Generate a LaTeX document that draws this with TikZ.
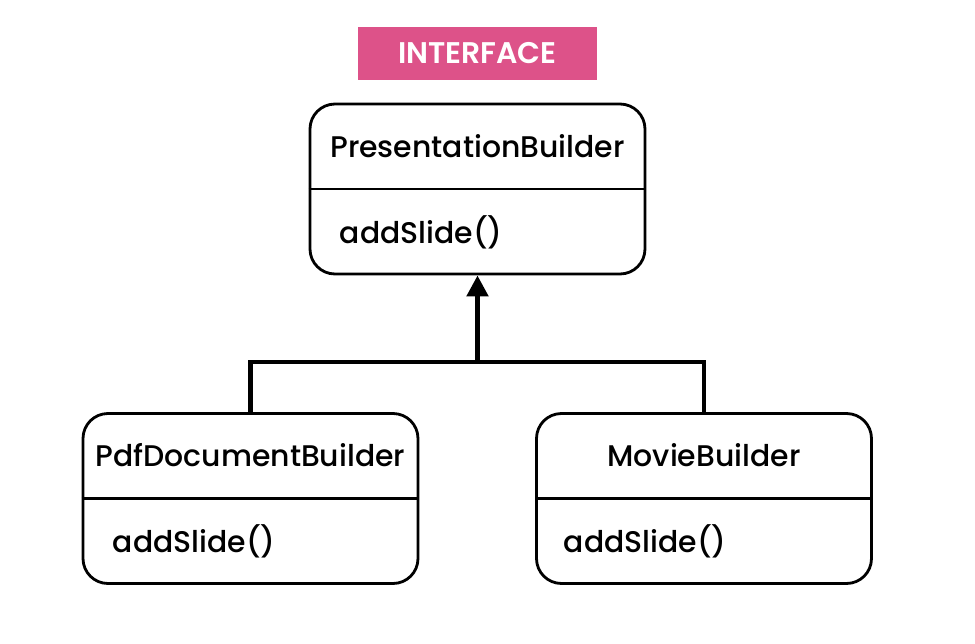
\documentclass[tikz,border=0pt]{standalone}
\usepackage{fontspec}
\setmainfont{Poppins}[UprightFont=* Medium, BoldFont=* SemiBold]
\usetikzlibrary{positioning,calc,arrows.meta}

\definecolor{rose}{RGB}{221,82,137}

\tikzset{
  classe/.style={draw, line width=1.6pt, rounded corners=0.5cm,
    minimum width=6.7cm, minimum height=3.4cm},
  titre/.style={font=\fontsize{17}{20}\selectfont},
  methode/.style={font=\fontsize{17}{20}\selectfont, anchor=west},
  lien/.style={line width=2.8pt},
}

\begin{document}
\begin{tikzpicture}

    % Le cadre de l'image
    \useasboundingbox (0,0) rectangle (19.5,-12.86);

    % L'etiquette en haut
    \node[fill=rose, text=white, minimum width=4.78cm, minimum height=1.06cm,
      font=\fontsize{17}{20}\selectfont\bfseries] (etiquette) at (9.55,-1.07) {INTERFACE};

    % Les trois classes
    \node[classe] (pres) at (9.55,-3.78) {};
    \node[classe] (pdf) at (5.01,-9.97) {};
    \node[classe] (movie) at (14.08,-9.97) {};

    % Les lignes de separation
    \draw[line width=1.6pt] (pres.west) -- (pres.east);
    \draw[line width=1.6pt] (pdf.west) -- (pdf.east);
    \draw[line width=1.6pt] (movie.west) -- (movie.east);

    % Les noms
    \node[titre] (presnom) at ($(pres.north)!0.5!(pres.center)$) {PresentationBuilder};
    \node[titre] (pdfnom) at ($(pdf.north)!0.5!(pdf.center)$) {PdfDocumentBuilder};
    \node[titre] (movienom) at ($(movie.north)!0.5!(movie.center)$) {MovieBuilder};

    % Les methodes
    \node[methode] (presmeth) at ($(pres.west)!0.5!(pres.south west)+(0.5,0)$) {addSlide()};
    \node[methode] (pdfmeth) at ($(pdf.west)!0.5!(pdf.south west)+(0.5,0)$) {addSlide()};
    \node[methode] (moviemeth) at ($(movie.west)!0.5!(movie.south west)+(0.45,0)$) {addSlide()};

    % Les liaisons vers l'interface
    \coordinate (jonction) at (pres.south |- 0,-7.24);
    \draw[lien] (pdf.north) |- (jonction) -| (movie.north);
    \draw[lien, -{Triangle[length=0.42cm, width=0.42cm]}] (jonction) -- (pres.south);

\end{tikzpicture}
\end{document}
